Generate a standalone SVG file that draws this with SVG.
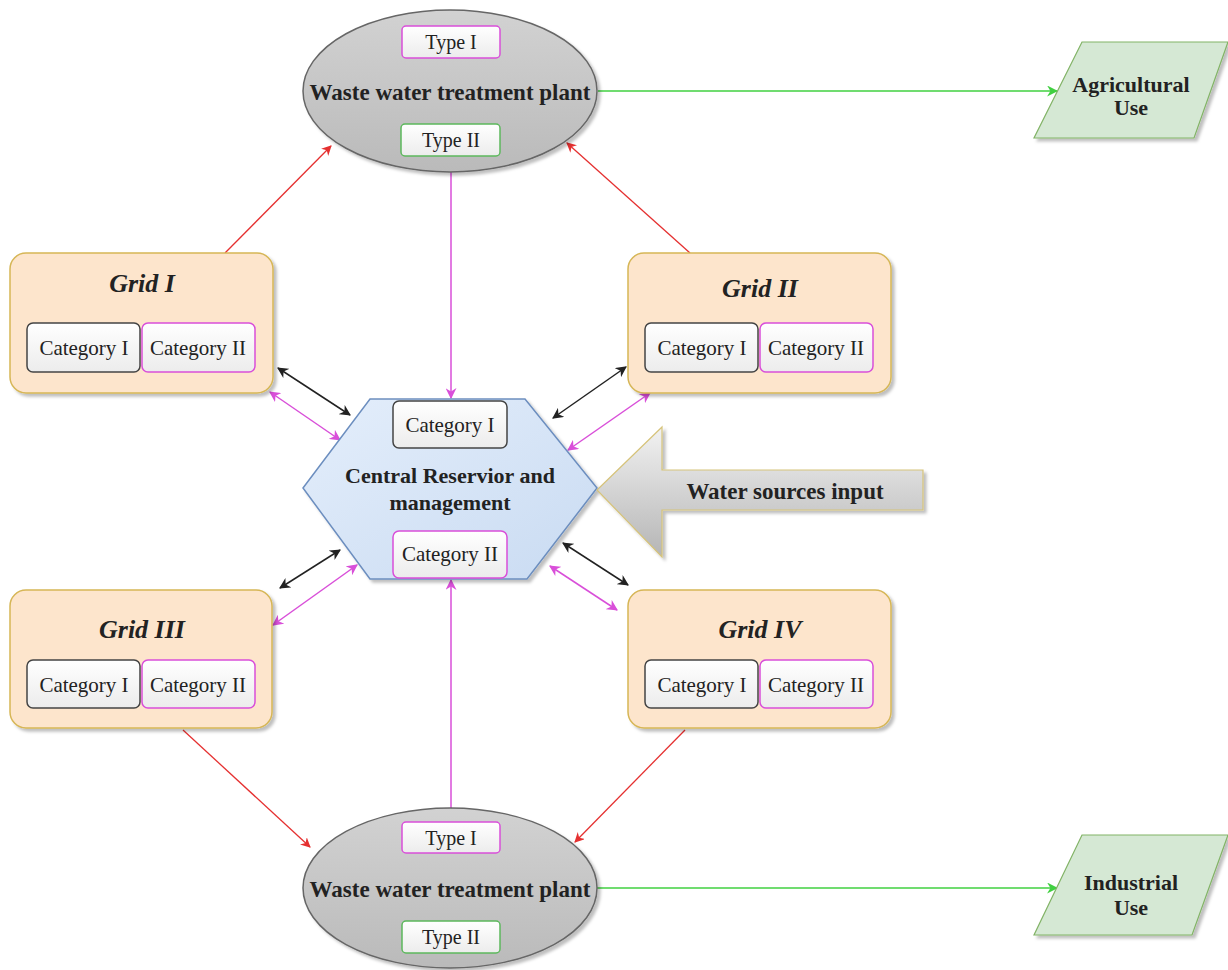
<svg xmlns="http://www.w3.org/2000/svg" width="1228" height="970" viewBox="0 0 1228 970" font-family="'Liberation Serif', 'Times New Roman', serif">
<defs>
<style>
text{font-family:"Liberation Serif","Times New Roman",serif;fill:#222;}
.t{font-size:21px;text-anchor:middle;}
.ty{font-size:20px;text-anchor:middle;}
.b{font-weight:bold;text-anchor:middle;}
.g{font-size:26px;font-weight:bold;font-style:italic;text-anchor:middle;}
.grid{fill:#fde5cc;stroke:#d6b656;stroke-width:1.5;filter:url(#sh);}
.c1{fill:url(#wg);stroke:#444;stroke-width:1.5;}
.c2{fill:url(#wg);stroke:#d94fd9;stroke-width:1.5;}
.ty2{fill:url(#wg);stroke:#5cb85c;stroke-width:1.5;}
.ell{fill:url(#eg);stroke:#666;stroke-width:1.5;filter:url(#sh);}
.par{fill:#d5e8d4;stroke:#82b366;stroke-width:1.2;filter:url(#sh);}
.red{stroke:#e53030;stroke-width:1.3;fill:none;marker-end:url(#mr);}
.mag{stroke:#d94fd9;stroke-width:1.5;fill:none;}
.blk{stroke:#222;stroke-width:1.5;fill:none;}
.grn{stroke:#40d040;stroke-width:1.5;fill:none;marker-end:url(#mg);}
</style>
<filter id="sh" x="-10%" y="-10%" width="130%" height="130%">
<feDropShadow dx="3" dy="3" stdDeviation="1.5" flood-color="#000" flood-opacity="0.25"/>
</filter>
<linearGradient id="wg" x1="0" y1="0" x2="0" y2="1">
<stop offset="0" stop-color="#ffffff"/><stop offset="1" stop-color="#ececec"/>
</linearGradient>
<linearGradient id="eg" x1="0" y1="0" x2="0" y2="1">
<stop offset="0" stop-color="#d2d2d2"/><stop offset="1" stop-color="#bababa"/>
</linearGradient>
<linearGradient id="hg" x1="0" y1="0" x2="1" y2="1">
<stop offset="0" stop-color="#e4eefb"/><stop offset="1" stop-color="#c9dbf2"/>
</linearGradient>
<linearGradient id="ag" x1="0" y1="0" x2="0" y2="1">
<stop offset="0" stop-color="#f2f2f2"/><stop offset="1" stop-color="#b5b5b5"/>
</linearGradient>
<marker id="mr" viewBox="0 0 10 10" refX="9" refY="5" markerWidth="10" markerHeight="10" markerUnits="userSpaceOnUse" orient="auto"><path d="M0,0 L10,5 L0,10 L3,5 Z" fill="#e53030"/></marker>
<marker id="mg" viewBox="0 0 10 10" refX="9" refY="5" markerWidth="11" markerHeight="11" markerUnits="userSpaceOnUse" orient="auto"><path d="M0,0 L10,5 L0,10 L3,5 Z" fill="#40d040"/></marker>
<marker id="mm" viewBox="0 0 10 10" refX="9" refY="5" markerWidth="11" markerHeight="11" markerUnits="userSpaceOnUse" orient="auto-start-reverse"><path d="M0,0 L10,5 L0,10 L3,5 Z" fill="#d94fd9"/></marker>
<marker id="mk" viewBox="0 0 10 10" refX="9" refY="5" markerWidth="11" markerHeight="11" markerUnits="userSpaceOnUse" orient="auto-start-reverse"><path d="M0,0 L10,5 L0,10 L3,5 Z" fill="#222"/></marker>
</defs>
<rect width="1228" height="970" fill="#ffffff"/>

<g id="connectors">
<line class="red" x1="225" y1="253" x2="331" y2="146"/>
<line class="red" x1="690" y1="253" x2="567" y2="143"/>
<line class="red" x1="183" y1="730" x2="310" y2="847"/>
<line class="red" x1="685" y1="730" x2="575" y2="842"/>
<line class="mag" x1="451" y1="172" x2="451" y2="398" marker-end="url(#mm)"/>
<line class="mag" x1="451" y1="822" x2="451" y2="580" marker-end="url(#mm)"/>
<line class="blk" x1="278" y1="368" x2="350" y2="415" marker-start="url(#mk)" marker-end="url(#mk)"/>
<line class="mag" x1="270" y1="392" x2="340" y2="440" marker-start="url(#mm)" marker-end="url(#mm)"/>
<line class="blk" x1="626" y1="367" x2="553" y2="418" marker-start="url(#mk)" marker-end="url(#mk)"/>
<line class="mag" x1="650" y1="393" x2="568" y2="450" marker-start="url(#mm)" marker-end="url(#mm)"/>
<line class="blk" x1="280" y1="588" x2="340" y2="550" marker-start="url(#mk)" marker-end="url(#mk)"/>
<line class="mag" x1="273" y1="625" x2="357" y2="565" marker-start="url(#mm)" marker-end="url(#mm)"/>
<line class="blk" x1="628" y1="585" x2="563" y2="543" marker-start="url(#mk)" marker-end="url(#mk)"/>
<line class="mag" x1="617" y1="610" x2="550" y2="566" marker-start="url(#mm)" marker-end="url(#mm)"/>
<line class="grn" x1="598" y1="91" x2="1057" y2="91"/>
<line class="grn" x1="597" y1="888" x2="1057" y2="888"/>
</g>

<g id="wwtp-top">
<ellipse class="ell" cx="450" cy="91" rx="147" ry="81"/>
<rect class="c2" x="402" y="26" width="98" height="32" rx="4"/>
<text class="ty" x="451" y="49">Type I</text>
<text class="b" x="450" y="100" font-size="23">Waste water treatment plant</text>
<rect class="ty2" x="401" y="124" width="99" height="32" rx="4"/>
<text class="ty" x="451" y="147">Type II</text>
</g>

<g id="agri">
<polygon class="par" points="1082,42 1228,42 1194,138 1034,138"/>
<text class="b" x="1131" y="92" font-size="22">Agricultural</text>
<text class="b" x="1131" y="115" font-size="22">Use</text>
</g>

<g id="grid1">
<rect class="grid" x="10" y="253" width="263" height="140" rx="16"/>
<text class="g" x="142" y="292">Grid I</text>
<rect class="c1" x="27" y="323" width="113" height="49" rx="6"/>
<text class="t" x="84" y="355">Category I</text>
<rect class="c2" x="142" y="323" width="113" height="49" rx="6"/>
<text class="t" x="198" y="355">Category II</text>
</g>

<g id="grid2">
<rect class="grid" x="628" y="253" width="263" height="140" rx="16"/>
<text class="g" x="760" y="297">Grid II</text>
<rect class="c1" x="645" y="323" width="113" height="49" rx="6"/>
<text class="t" x="702" y="355">Category I</text>
<rect class="c2" x="760" y="323" width="113" height="49" rx="6"/>
<text class="t" x="816" y="355">Category II</text>
</g>

<g id="central">
<polygon points="303,488 370,399 525,399 597,488 527,579 370,579" fill="url(#hg)" stroke="#6c8ebf" stroke-width="1.5" filter="url(#sh)"/>
<rect class="c1" x="393" y="401" width="114" height="47" rx="6"/>
<text class="t" x="450" y="432">Category I</text>
<text class="b" x="450" y="483" font-size="22">Central Reservior and</text>
<text class="b" x="450" y="510" font-size="22">management</text>
<rect class="c2" x="393" y="531" width="114" height="47" rx="6"/>
<text class="t" x="450" y="561">Category II</text>
</g>

<g id="water-input">
<polygon points="597,490 662,427 662,470 923,470 923,510 662,510 662,557" fill="url(#ag)" stroke="#d6c37a" stroke-width="1.2" filter="url(#sh)"/>
<text class="b" x="785" y="499" font-size="23">Water sources input</text>
</g>

<g id="grid3">
<rect class="grid" x="10" y="590" width="262" height="138" rx="16"/>
<text class="g" x="142" y="638">Grid III</text>
<rect class="c1" x="27" y="660" width="113" height="48" rx="6"/>
<text class="t" x="84" y="692">Category I</text>
<rect class="c2" x="142" y="660" width="113" height="48" rx="6"/>
<text class="t" x="198" y="692">Category II</text>
</g>

<g id="grid4">
<rect class="grid" x="628" y="590" width="263" height="138" rx="16"/>
<text class="g" x="760" y="638">Grid IV</text>
<rect class="c1" x="645" y="660" width="113" height="48" rx="6"/>
<text class="t" x="702" y="692">Category I</text>
<rect class="c2" x="760" y="660" width="113" height="48" rx="6"/>
<text class="t" x="816" y="692">Category II</text>
</g>

<g id="wwtp-bottom">
<ellipse class="ell" cx="450" cy="888" rx="147" ry="80"/>
<rect class="c2" x="402" y="822" width="98" height="31" rx="4"/>
<text class="ty" x="451" y="845">Type I</text>
<text class="b" x="450" y="897" font-size="23">Waste water treatment plant</text>
<rect class="ty2" x="402" y="921" width="98" height="32" rx="4"/>
<text class="ty" x="451" y="944">Type II</text>
</g>

<g id="industrial">
<polygon class="par" points="1082,835 1228,835 1192,935 1034,935"/>
<text class="b" x="1131" y="890" font-size="22">Industrial</text>
<text class="b" x="1131" y="915" font-size="22">Use</text>
</g>
</svg>
